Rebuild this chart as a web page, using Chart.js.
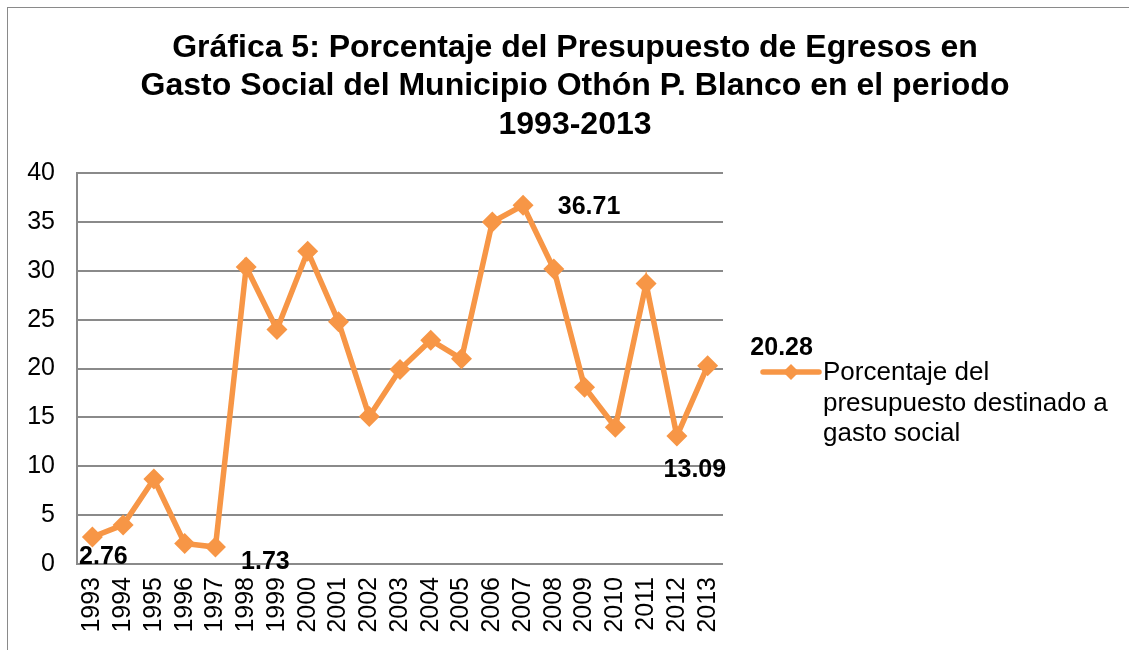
<!DOCTYPE html>
<html>
<head>
<meta charset="utf-8">
<script src="https://cdn.jsdelivr.net/npm/chart.js@4.4.1/dist/chart.umd.min.js"></script>
<style>
  html, body { margin: 0; padding: 0; background: #fff; overflow: hidden; width: 1129px; height: 650px; }
  #frame { position: absolute; left: 7px; top: 7px; width: 1140px; height: 660px; border-left: 1px solid #8a8a8a; border-top: 1px solid #8a8a8a; }
  #c { position: absolute; left: 0; top: 0; }
</style>
</head>
<body>
<div id="frame"><canvas id="c" width="1134" height="642"></canvas></div>
<script>
// ---- data ----
const titleLines = [
  "Gráfica 5: Porcentaje del Presupuesto de Egresos en",
  "Gasto Social del Municipio Othón P. Blanco en el periodo",
  "1993-2013"
];
const years = ["1993","1994","1995","1996","1997","1998","1999","2000","2001","2002","2003",
               "2004","2005","2006","2007","2008","2009","2010","2011","2012","2013"];
const gastoSocial = [2.76, 4.0, 8.7, 2.1, 1.73, 30.4, 24.0, 32.0, 24.8, 15.1, 19.9,
                     22.9, 21.0, 35.0, 36.71, 30.2, 18.1, 14.0, 28.7, 13.09, 20.28];
const seriesLabel = "Porcentaje del presupuesto destinado a gasto social";
const labeledIdx = [0, 4, 14, 19, 20];
const yTicks = { min: 0, max: 40, step: 5 };

const FONT = "'Liberation Sans', Arial, sans-serif";
const ORANGE = "#F79646";
const GRID = "#8a8a8a";

const dataLabelPlugin = {
  id: 'dataLabels',
  afterDatasetsDraw(chart, args, opts) {
    const ctx = chart.ctx;
    const meta = chart.getDatasetMeta(0);
    const ds = chart.data.datasets[0];
    ctx.save();
    ctx.font = "bold 25px " + FONT;
    ctx.fillStyle = "#000";
    ctx.textAlign = "center";
    ctx.textBaseline = "middle";
    opts.indices.forEach((i, k) => {
      const pt = meta.data[i];
      const off = opts.offsets[k];
      ctx.fillText(ds.data[i].toFixed(2), pt.x + off[0], pt.y + off[1]);
    });
    ctx.restore();
  }
};

const sideLegendPlugin = {
  id: 'sideLegend',
  afterDraw(chart, args, opts) {
    const ctx = chart.ctx;
    const ds = chart.data.datasets[0];
    const x0 = chart.chartArea.right + opts.gap;
    const y0 = opts.y;
    ctx.save();
    ctx.strokeStyle = ds.borderColor;
    ctx.lineWidth = 5.5;
    ctx.lineCap = "round";
    ctx.beginPath();
    ctx.moveTo(x0, y0);
    ctx.lineTo(x0 + opts.lineLen, y0);
    ctx.stroke();
    const cx = x0 + opts.lineLen / 2, r = 8;
    ctx.fillStyle = ds.borderColor;
    ctx.beginPath();
    ctx.moveTo(cx, y0 - r); ctx.lineTo(cx + r, y0); ctx.lineTo(cx, y0 + r); ctx.lineTo(cx - r, y0);
    ctx.closePath(); ctx.fill();
    ctx.font = "26px " + FONT;
    ctx.fillStyle = "#000";
    ctx.textAlign = "left";
    ctx.textBaseline = "middle";
    const words = ds.label.split(" ");
    const lines = [];
    let cur = "";
    words.forEach(w => {
      const t = cur ? cur + " " + w : w;
      if (ctx.measureText(t).width > opts.maxWidth && cur) { lines.push(cur); cur = w; }
      else cur = t;
    });
    if (cur) lines.push(cur);
    lines.forEach((ln, i) => ctx.fillText(ln, x0 + opts.lineLen + 4, y0 + 1 + i * opts.lineHeight));
    ctx.restore();
  }
};

new Chart(document.getElementById('c'), {
  type: 'line',
  data: {
    labels: years,
    datasets: [{
      label: seriesLabel,
      data: gastoSocial,
      borderColor: ORANGE,
      backgroundColor: ORANGE,
      borderWidth: 5.5,
      pointStyle: 'rectRot',
      pointRadius: 10.5,
      pointBorderWidth: 0,
      pointBackgroundColor: ORANGE,
      tension: 0,
      fill: false
    }]
  },
  options: {
    responsive: false,
    animation: false,
    devicePixelRatio: 1,
    layout: { padding: 0 },
    plugins: {
      legend: { display: false },
      tooltip: { enabled: false },
      title: {
        display: true,
        text: titleLines,
        color: "#000",
        font: { family: FONT, size: 32, weight: 'bold', lineHeight: 1.2 },
        padding: { top: 21, bottom: 29 }
      },
      dataLabels: {
        indices: labeledIdx,
        offsets: [[11, 20], [50, 15], [66, 2], [18, 34], [74, -18]]
      },
      sideLegend: { gap: 40, y: 364, lineLen: 56, maxWidth: 300, lineHeight: 30.5 }
    },
    scales: {
      x: {
        offset: true,
        grid: { display: false, drawTicks: false },
        border: { display: false },
        ticks: {
          color: "#000",
          font: { family: FONT, size: 25 },
          minRotation: 90, maxRotation: 90,
          autoSkip: false,
          padding: 13
        },
        afterFit(s) { s.height = 86; }
      },
      y: {
        min: yTicks.min, max: yTicks.max,
        grid: { color: GRID, lineWidth: 2, drawTicks: false },
        border: { display: true, color: GRID, width: 2 },
        ticks: {
          stepSize: yTicks.step,
          color: "#000",
          font: { family: FONT, size: 25 },
          padding: 22
        },
        afterFit(s) { s.width = 69; }
      },
      legendSpace: {
        type: 'linear',
        position: 'right',
        display: true,
        grid: { display: false, drawTicks: false },
        border: { display: false },
        ticks: { display: false },
        afterFit(s) { s.width = 419; }
      }
    }
  },
  plugins: [dataLabelPlugin, sideLegendPlugin]
});
</script>
</body>
</html>
